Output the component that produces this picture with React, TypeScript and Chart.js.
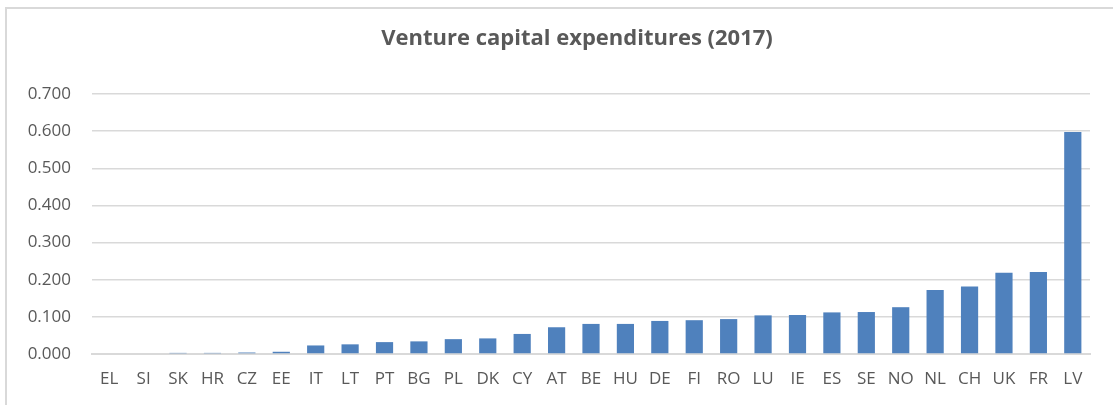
import React, { useEffect, useRef } from "react";
import { Chart, registerables } from "chart.js";

Chart.register(...registerables);

const TITLE = "Venture capital expenditures (2017)";

const categories = [
  "EL", "SI", "SK", "HR", "CZ", "EE", "IT", "LT", "PT", "BG", "PL", "DK", "CY", "AT", "BE",
  "HU", "DE", "FI", "RO", "LU", "IE", "ES", "SE", "NO", "NL", "CH", "UK", "FR", "LV",
];

const values = [
  0.0, 0.0, 0.003, 0.003, 0.004, 0.006, 0.023, 0.026, 0.032, 0.034, 0.04, 0.042, 0.054, 0.072, 0.081,
  0.081, 0.089, 0.091, 0.094, 0.104, 0.105, 0.112, 0.113, 0.126, 0.172, 0.182, 0.219, 0.221, 0.598,
];

const yMin = 0;
const yMax = 0.7;
const yStep = 0.1;

const FONT = "'Open Sans', 'DejaVu Sans', sans-serif";
const TEXT = "#595959";
const GRID = "#d9d9d9";
const BAR = "#4f81bd";

const titlePlugin = {
  id: "fixedTitle",
  afterDraw(chart: any) {
    const ctx = chart.ctx;
    ctx.save();
    ctx.font = `bold 22px ${FONT}`;
    ctx.fillStyle = TEXT;
    ctx.textAlign = "center";
    ctx.textBaseline = "alphabetic";
    ctx.fillText(TITLE, 577, 44.5);
    ctx.restore();
  },
};

export default function App() {
  const ref = useRef<HTMLCanvasElement | null>(null);

  useEffect(() => {
    if (!ref.current) return;
    const chart = new Chart(ref.current, {
      type: "bar",
      data: {
        labels: categories,
        datasets: [
          {
            data: values,
            backgroundColor: BAR,
            borderWidth: 0,
            categoryPercentage: 1,
            barPercentage: 0.5,
          },
        ],
      },
      options: {
        animation: false,
        responsive: false,
        layout: { padding: { top: 94, right: 23, left: 0, bottom: 0 } },
        plugins: {
          legend: { display: false },
          title: { display: false },
          tooltip: { enabled: false },
        },
        scales: {
          x: {
            grid: { display: false, drawTicks: false },
            border: { display: true, color: GRID, width: 2 },
            ticks: {
              color: TEXT,
              font: { family: FONT, size: 17 },
              padding: 15,
              maxRotation: 0,
              autoSkip: false,
            },
            afterFit(scale: any) {
              scale.height = 51;
            },
          },
          y: {
            min: yMin,
            max: yMax,
            grid: { color: GRID, lineWidth: 1.5, drawTicks: false },
            border: { display: false },
            ticks: {
              stepSize: yStep,
              color: TEXT,
              font: { family: FONT, size: 17 },
              padding: 21,
              callback: (v: any) => Number(v).toFixed(3),
            },
            afterFit(scale: any) {
              scale.width = 92;
            },
          },
        },
      },
      plugins: [titlePlugin],
    });
    return () => chart.destroy();
  }, []);

  return (
    <div
      style={{
        position: "fixed",
        left: 0,
        top: 0,
        width: 1113,
        height: 405,
        overflow: "hidden",
        background: "#ffffff",
      }}
    >
      <canvas ref={ref} width={1113} height={405} style={{ position: "absolute", left: 0, top: 0 }} />
      <div
        style={{
          position: "absolute",
          left: 5,
          top: 7,
          right: -20,
          bottom: -20,
          borderLeft: `2px solid ${GRID}`,
          borderTop: `2px solid ${GRID}`,
          pointerEvents: "none",
        }}
      />
    </div>
  );
}
